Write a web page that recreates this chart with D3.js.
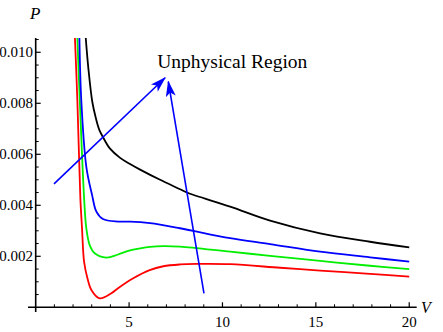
<!DOCTYPE html>
<html><head><meta charset="utf-8">
<script src="https://cdn.jsdelivr.net/npm/d3@7"></script>
<style>body{margin:0;background:#fff}svg{display:block}svg text{font-family:"Liberation Serif","Times New Roman",Times,serif}</style>
</head><body><div id="chart"></div>
<script>
// ---- data ----
const redV   = [2.10, 2.23, 2.39, 2.48, 2.59, 2.77, 2.98, 3.43, 4.05, 4.41, 5.20, 6.10, 6.83, 7.73, 8.60, 10.41, 13.09, 15.23, 17.90, 20.00];
const redP   = [0.01056, 0.00813, 0.00430, 0.00310, 0.00179, 0.00114, 0.00068, 0.00035, 0.00055, 0.00075, 0.00113, 0.00146, 0.00161, 0.00168, 0.00170, 0.00169, 0.00155, 0.00144, 0.00131, 0.00120];
const greenV = [2.23, 2.36, 2.59, 2.71, 2.89, 3.16, 3.78, 4.41, 5.00, 5.59, 6.12, 6.83, 7.73, 10.41, 12.55, 15.23, 17.90, 20.00];
const greenP = [0.01056, 0.00813, 0.00430, 0.00310, 0.00244, 0.00212, 0.00195, 0.00207, 0.00222, 0.00231, 0.00237, 0.00240, 0.00238, 0.00218, 0.00202, 0.00182, 0.00163, 0.00150];
const blueV  = [2.34, 2.44, 2.71, 3.02, 3.25, 3.60, 4.41, 5.05, 6.12, 7.73, 10.41, 12.55, 15.23, 17.90, 20.00];
const blueP  = [0.01056, 0.00813, 0.00551, 0.00440, 0.00375, 0.00346, 0.00336, 0.00336, 0.00330, 0.00310, 0.00271, 0.00248, 0.00218, 0.00196, 0.00179];
const blackV = [2.68, 2.82, 3.03, 3.20, 3.40, 3.62, 3.98, 4.52, 5.05, 5.59, 6.66, 7.73, 8.09, 10.41, 12.55, 15.23, 17.90, 20.00];
const blackP = [0.01056, 0.00937, 0.00806, 0.00748, 0.00697, 0.00665, 0.00622, 0.00586, 0.00562, 0.00540, 0.00500, 0.00463, 0.00450, 0.00395, 0.00340, 0.00290, 0.00257, 0.00235];
const xTicks = [5, 10, 15, 20];
const yTicks = [0.002, 0.004, 0.006, 0.008, 0.010];
const yTickLabels = ["0.002", "0.004", "0.006", "0.008", "0.010"];
// annotation arrows: [V0, P0, V1, P1] (tail -> head)
const arrows = [[0.98, 0.00484, 6.93, 0.00900], [9.01, 0.00055, 7.10, 0.00885]];
const noteText = "Unphysical Region";
const notePos = [6.51, 0.00940];

const W = 443, H = 332;
const FONT = "Liberation Serif, Times New Roman, Times, serif";
const x = d3.scaleLinear().domain([0, 20.4]).range([35.7, 416.7]);
const y = d3.scaleLinear().domain([0, 0.01056]).range([307.3, 38]);

const svg = d3.select("#chart").append("svg").attr("width", W).attr("height", H)
  .style("font-family", FONT);
const defs = svg.append("defs");
defs.append("clipPath").attr("id", "clip")
  .append("rect").attr("x", x(0)).attr("y", y(0.01056)).attr("width", x(20.4) - x(0)).attr("height", y(0) - y(0.01056));
defs.append("marker").attr("id", "ah").attr("viewBox", "0 0 16 10")
  .attr("refX", 15).attr("refY", 5).attr("markerWidth", 16).attr("markerHeight", 10)
  .attr("markerUnits", "userSpaceOnUse").attr("orient", "auto")
  .append("path").attr("d", "M0,0 L16,5 L0,10 L4,5 Z").attr("fill", "#0000ff");

// axes
const xMinor = d3.range(1, 21).filter(v => v % 5 !== 0);
const yMinor = d3.range(1, 22).map(i => i * 0.0005).filter((v, i) => (i + 1) % 4 !== 0);
const g = svg.append("g");
g.append("line").attr("x1", 28).attr("x2", x(20.4)).attr("y1", y(0)).attr("y2", y(0)).attr("stroke", "#000").attr("stroke-width", 1.6);
g.append("line").attr("x1", x(0)).attr("x2", x(0)).attr("y1", 312).attr("y2", y(0.01056)).attr("stroke", "#000").attr("stroke-width", 1.6);
g.selectAll(".xmaj").data(xTicks).enter().append("line")
  .attr("x1", d => x(d)).attr("x2", d => x(d)).attr("y1", y(0)).attr("y2", y(0) - 5).attr("stroke", "#000").attr("stroke-width", 1.2);
g.selectAll(".xmin").data(xMinor).enter().append("line")
  .attr("x1", d => x(d)).attr("x2", d => x(d)).attr("y1", y(0)).attr("y2", y(0) - 3).attr("stroke", "#000").attr("stroke-width", 1);
g.selectAll(".ymaj").data(yTicks).enter().append("line")
  .attr("y1", d => y(d)).attr("y2", d => y(d)).attr("x1", x(0)).attr("x2", x(0) + 5).attr("stroke", "#000").attr("stroke-width", 1.2);
g.selectAll(".ymin").data(yMinor).enter().append("line")
  .attr("y1", d => y(d)).attr("y2", d => y(d)).attr("x1", x(0)).attr("x2", x(0) + 3).attr("stroke", "#000").attr("stroke-width", 1);
g.selectAll(".xl").data(xTicks).enter().append("text")
  .attr("x", d => x(d)).attr("y", 326.5).attr("text-anchor", "middle").attr("font-size", 15).text(d => d);
g.selectAll(".yl").data(yTicks).enter().append("text")
  .attr("x", 33).attr("y", d => y(d) + 5).attr("text-anchor", "end").attr("font-size", 15).text((d, i) => yTickLabels[i]);
svg.append("text").attr("x", 30).attr("y", 19).attr("font-size", 17).attr("font-style", "italic").text("P");
svg.append("text").attr("x", 421).attr("y", 313).attr("font-size", 16).attr("font-style", "italic").text("V");

// curves
const line = d3.line().x(d => x(d[0])).y(d => y(d[1])).curve(d3.curveCatmullRom.alpha(0.5));
const series = [[redV, redP, "#ff0000"], [greenV, greenP, "#00ee00"], [blueV, blueP, "#0000ff"], [blackV, blackP, "#000000"]];
const cg = svg.append("g").attr("clip-path", "url(#clip)");
series.forEach(([vs, ps, c]) => {
  cg.append("path").datum(vs.map((v, i) => [v, ps[i]])).attr("d", line)
    .attr("fill", "none").attr("stroke", c).attr("stroke-width", 1.8);
});

// annotations
svg.selectAll(".arr").data(arrows).enter().append("line")
  .attr("x1", d => x(d[0])).attr("y1", d => y(d[1])).attr("x2", d => x(d[2])).attr("y2", d => y(d[3]))
  .attr("stroke", "#0000ff").attr("stroke-width", 1.6).attr("marker-end", "url(#ah)");
svg.append("text").attr("x", x(notePos[0])).attr("y", y(notePos[1])).attr("font-size", 19.5).text(noteText);
</script></body></html>
